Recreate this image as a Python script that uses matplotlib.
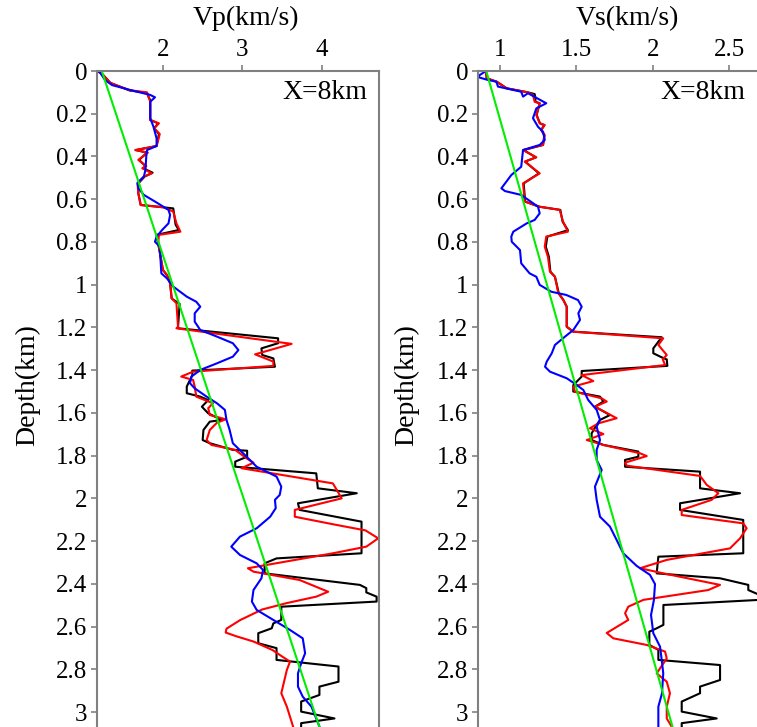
import numpy as np
import matplotlib
matplotlib.use("Agg")
import matplotlib.pyplot as plt
from matplotlib.ticker import FuncFormatter

plt.rcParams['font.family'] = ['Liberation Serif', 'DejaVu Serif']

# ---- P-wave velocity profiles at X=8km ----
vp_true_z = [0.0, 0.02, 0.056, 0.091, 0.103, 0.122, 0.136, 0.229, 0.245, 0.268, 0.295, 0.351,
             0.370, 0.382, 0.416, 0.445, 0.455, 0.476, 0.494, 0.526, 0.572, 0.627, 0.638, 0.643,
             0.72, 0.744, 0.767, 0.806, 0.931, 0.955, 0.993, 1.064, 1.07, 1.09, 1.20, 1.204,
             1.251, 1.274, 1.298, 1.329, 1.345, 1.384, 1.402, 1.423, 1.477, 1.508, 1.524, 1.540,
             1.571, 1.602, 1.633, 1.641, 1.68, 1.727, 1.742, 1.773, 1.777, 1.805, 1.828, 1.852,
             1.883, 1.953, 1.976, 2.023, 2.054, 2.109, 2.257, 2.281, 2.304, 2.351, 2.405, 2.42,
             2.44, 2.46, 2.483, 2.507, 2.569, 2.585, 2.608, 2.631, 2.678, 2.701, 2.756, 2.787,
             2.858, 2.881, 2.920, 2.951, 2.998, 3.03, 3.052, 3.07]
vp_true_v = [1.18, 1.25, 1.34, 1.58, 1.80, 1.82, 1.84, 1.84, 1.94, 1.89, 1.95, 1.92,
             1.66, 1.80, 1.70, 1.78, 1.75, 1.87, 1.77, 1.69, 1.69, 1.72, 2.01, 2.13,
             2.16, 2.20, 1.92, 1.94, 2.00, 2.05, 2.09, 2.11, 2.13, 2.21, 2.19, 2.19,
             3.45, 3.45, 3.24, 3.25, 3.39, 3.41, 2.37, 2.37, 2.30, 2.30, 2.47, 2.57,
             2.49, 2.57, 2.74, 2.59, 2.51, 2.50, 2.59, 2.88, 3.06, 3.06, 2.91, 2.91,
             3.93, 3.95, 4.44, 3.70, 3.72, 4.50, 4.50, 3.43, 3.28, 3.28, 4.48, 4.56,
             4.56, 4.69, 4.69, 3.49, 3.49, 3.39, 3.37, 3.20, 3.20, 3.43, 3.43, 4.21,
             4.21, 3.97, 3.97, 3.74, 3.74, 4.16, 3.74, 3.74]

vp_inv_z = [0.0, 0.02, 0.056, 0.09, 0.10, 0.144, 0.229, 0.245, 0.268, 0.295, 0.351, 0.370,
            0.382, 0.416, 0.445, 0.455, 0.479, 0.494, 0.526, 0.572, 0.627, 0.638, 0.658, 0.713,
            0.752, 0.767, 0.806, 0.931, 0.955, 0.993, 1.064, 1.087, 1.197, 1.204, 1.277, 1.326,
            1.360, 1.380, 1.407, 1.430, 1.446, 1.477, 1.524, 1.555, 1.578, 1.610, 1.630, 1.646,
            1.680, 1.727, 1.750, 1.773, 1.812, 1.833, 1.859, 1.93, 2.0, 2.054, 2.086, 2.124,
            2.150, 2.187, 2.226, 2.257, 2.327, 2.343, 2.382, 2.437, 2.460, 2.49, 2.52, 2.57,
            2.61, 2.628, 2.645, 2.67, 2.71, 2.74, 2.764, 2.803, 2.881, 2.912, 2.975, 3.07]
vp_inv_v = [1.18, 1.25, 1.34, 1.58, 1.80, 1.84, 1.84, 1.95, 1.89, 1.96, 1.92, 1.65,
            1.81, 1.69, 1.79, 1.74, 1.86, 1.76, 1.68, 1.69, 1.72, 2.01, 2.13, 2.17,
            2.22, 1.95, 1.94, 2.00, 2.05, 2.09, 2.11, 2.17, 2.19, 2.17, 3.62, 3.16,
            3.39, 3.39, 2.38, 2.23, 2.38, 2.40, 2.42, 2.63, 2.57, 2.59, 2.79, 2.68,
            2.59, 2.55, 2.61, 2.91, 3.05, 3.14, 2.99, 4.14, 4.25, 3.66, 3.66, 4.18,
            4.55, 4.71, 4.56, 4.14, 3.07, 3.14, 3.72, 4.08, 3.93, 3.56, 3.25, 2.97,
            2.80, 2.79, 2.92, 3.14, 3.38, 3.50, 3.60, 3.56, 3.51, 3.49, 3.56, 3.64]

vp_fwi_z = [0.0, 0.008, 0.042, 0.066, 0.089, 0.112, 0.123, 0.144, 0.221, 0.26, 0.315, 0.351,
            0.370, 0.401, 0.463, 0.494, 0.523, 0.549, 0.580, 0.611, 0.650, 0.674, 0.713, 0.744,
            0.775, 0.799, 0.822, 0.947, 0.97, 1.009, 1.056, 1.08, 1.103, 1.134, 1.173, 1.212,
            1.243, 1.274, 1.306, 1.337, 1.368, 1.399, 1.43, 1.461, 1.485, 1.524, 1.555, 1.586,
            1.633, 1.68, 1.742, 1.789, 1.852, 1.898, 1.945, 1.984, 2.007, 2.046, 2.086, 2.14,
            2.179, 2.226, 2.265, 2.304, 2.335, 2.374, 2.429, 2.483, 2.522, 2.569, 2.616, 2.655,
            2.725, 2.772, 2.819, 2.881, 2.928, 2.975, 3.068]
vp_fwi_v = [1.17, 1.21, 1.27, 1.36, 1.59, 1.84, 1.90, 1.84, 1.84, 1.88, 1.92, 1.92,
            1.80, 1.79, 1.78, 1.76, 1.68, 1.69, 1.76, 1.90, 2.07, 2.09, 2.07, 1.99,
            1.92, 1.90, 1.96, 1.98, 2.05, 2.13, 2.30, 2.42, 2.47, 2.40, 2.40, 2.47,
            2.68, 2.88, 2.95, 2.88, 2.68, 2.47, 2.36, 2.34, 2.40, 2.55, 2.68, 2.78,
            2.80, 2.84, 2.88, 3.01, 3.18, 3.43, 3.49, 3.47, 3.41, 3.42, 3.35, 3.18,
            2.97, 2.86, 2.97, 3.18, 3.26, 3.24, 3.14, 3.12, 3.18, 3.39, 3.60, 3.76,
            3.79, 3.74, 3.70, 3.70, 3.76, 3.87, 3.97]

vp_init_z = [0.0, 3.07]
vp_init_v = [1.23, 3.97]

# ---- S-wave velocity profiles at X=8km ----
vs_true_z = [0.003, 0.034, 0.050, 0.081, 0.100, 0.108, 0.125, 0.144, 0.151, 0.206, 0.245, 0.253,
             0.276, 0.300, 0.346, 0.370, 0.404, 0.424, 0.479, 0.526, 0.611, 0.635, 0.650, 0.705,
             0.745, 0.775, 0.822, 0.869, 0.939, 0.963, 1.04, 1.072, 1.103, 1.197, 1.220, 1.246,
             1.298, 1.321, 1.340, 1.350, 1.380, 1.404, 1.43, 1.47, 1.50, 1.524, 1.547, 1.571,
             1.61, 1.633, 1.656, 1.696, 1.727, 1.75, 1.781, 1.805, 1.82, 1.852, 1.875, 1.953,
             1.976, 2.023, 2.054, 2.101, 2.257, 2.273, 2.351, 2.374, 2.405, 2.429, 2.452, 2.475,
             2.499, 2.592, 2.608, 2.624, 2.686, 2.709, 2.756, 2.780, 2.850, 2.881, 2.912, 2.951,
             2.998, 3.03, 3.052, 3.07]
vs_true_v = [0.908, 0.913, 0.978, 1.044, 1.183, 1.227, 1.232, 1.232, 1.260, 1.240, 1.262, 1.29,
             1.27, 1.29, 1.282, 1.155, 1.235, 1.165, 1.255, 1.155, 1.165, 1.255, 1.395, 1.41,
             1.445, 1.31, 1.30, 1.32, 1.33, 1.36, 1.385, 1.415, 1.437, 1.437, 1.48, 2.059,
             2.004, 2.004, 2.059, 2.092, 2.096, 1.535, 1.535, 1.48, 1.48, 1.655, 1.677, 1.622,
             1.72, 1.655, 1.633, 1.60, 1.60, 1.677, 1.906, 1.906, 1.819, 1.819, 2.31, 2.31,
             2.572, 2.179, 2.179, 2.593, 2.593, 2.037, 2.026, 2.441, 2.626, 2.626, 2.70, 2.70,
             2.07, 2.07, 2.026, 1.978, 1.978, 2.037, 2.037, 2.441, 2.441, 2.31, 2.31, 2.19,
             2.19, 2.419, 2.19, 2.19]

vs_inv_z = [0.003, 0.034, 0.050, 0.081, 0.100, 0.112, 0.144, 0.151, 0.206, 0.245, 0.253, 0.276,
            0.300, 0.346, 0.370, 0.404, 0.424, 0.479, 0.526, 0.611, 0.635, 0.650, 0.705, 0.752,
            0.775, 0.822, 0.869, 0.939, 0.963, 1.040, 1.072, 1.103, 1.197, 1.220, 1.251, 1.282,
            1.329, 1.349, 1.376, 1.423, 1.451, 1.477, 1.501, 1.532, 1.547, 1.571, 1.625, 1.649,
            1.672, 1.699, 1.727, 1.750, 1.789, 1.802, 1.833, 1.847, 1.895, 1.937, 1.976, 2.007,
            2.054, 2.078, 2.117, 2.140, 2.187, 2.234, 2.288, 2.327, 2.351, 2.405, 2.429, 2.475,
            2.507, 2.538, 2.569, 2.630, 2.655, 2.686, 2.717, 2.749, 2.819, 2.858, 2.912, 2.975,
            3.030, 3.068]
vs_inv_v = [0.908, 0.913, 0.978, 1.044, 1.183, 1.216, 1.227, 1.260, 1.238, 1.260, 1.293, 1.270,
            1.293, 1.282, 1.151, 1.238, 1.162, 1.260, 1.151, 1.162, 1.260, 1.391, 1.413, 1.445,
            1.303, 1.293, 1.314, 1.327, 1.360, 1.382, 1.415, 1.437, 1.437, 1.480, 2.069, 2.037,
            2.092, 2.066, 2.081, 1.535, 1.611, 1.480, 1.491, 1.666, 1.699, 1.622, 1.764, 1.644,
            1.589, 1.677, 1.568, 1.677, 1.917, 1.961, 1.819, 1.830, 2.310, 2.354, 2.430, 2.386,
            2.190, 2.190, 2.593, 2.615, 2.572, 2.506, 2.092, 1.917, 2.070, 2.441, 2.364, 1.939,
            1.840, 1.819, 1.840, 1.699, 1.742, 1.961, 2.081, 2.092, 2.026, 2.092, 2.113, 2.092,
            2.092, 2.124]

vs_fwi_z = [0.003, 0.019, 0.029, 0.042, 0.050, 0.073, 0.097, 0.120, 0.104, 0.151, 0.175, 0.221,
            0.261, 0.284, 0.323, 0.346, 0.370, 0.448, 0.487, 0.549, 0.562, 0.580, 0.635, 0.666,
            0.697, 0.713, 0.752, 0.775, 0.799, 0.838, 0.900, 0.947, 0.963, 1.001, 1.033, 1.048,
            1.072, 1.103, 1.134, 1.165, 1.212, 1.243, 1.282, 1.321, 1.360, 1.384, 1.407, 1.438,
            1.469, 1.493, 1.540, 1.586, 1.633, 1.664, 1.727, 1.773, 1.820, 1.867, 1.945, 2.007,
            2.086, 2.132, 2.195, 2.257, 2.316, 2.358, 2.401, 2.475, 2.546, 2.631, 2.694, 2.756,
            2.818, 2.912, 2.975, 3.068]
vs_fwi_v = [0.902, 0.867, 0.858, 0.921, 0.976, 0.987, 1.139, 1.151, 1.183, 1.303, 1.238, 1.216,
            1.249, 1.282, 1.293, 1.260, 1.151, 1.139, 1.074, 1.009, 1.033, 1.139, 1.249, 1.260,
            1.227, 1.175, 1.087, 1.074, 1.077, 1.131, 1.139, 1.194, 1.238, 1.260, 1.336, 1.434,
            1.511, 1.535, 1.513, 1.524, 1.480, 1.426, 1.360, 1.339, 1.306, 1.295, 1.327, 1.437,
            1.502, 1.546, 1.578, 1.633, 1.655, 1.633, 1.655, 1.633, 1.633, 1.666, 1.622, 1.633,
            1.655, 1.720, 1.764, 1.807, 1.895, 1.982, 2.015, 2.008, 1.989, 2.004, 2.048, 2.059,
            2.069, 2.061, 2.037, 2.037]

vs_init_z = [0.0, 3.07]
vs_init_v = [0.91, 2.13]

depth_ticks = [0, 0.2, 0.4, 0.6, 0.8, 1, 1.2, 1.4, 1.6, 1.8, 2, 2.2, 2.4, 2.6, 2.8, 3]
vp_ticks = [2, 3, 4]
vs_ticks = [1, 1.5, 2, 2.5]

W, H = 757, 727
fig = plt.figure(figsize=(W / 100, H / 100), dpi=100)

ax1 = fig.add_axes([97 / W, 0, (379 - 97) / W, 1 - 71 / H])
ax2 = fig.add_axes([478 / W, 0, (757 - 478) / W, 1 - 71 / H])

panels = [
    (ax1, vp_true_z, vp_true_v, vp_inv_z, vp_inv_v, vp_fwi_z, vp_fwi_v,
     vp_init_z, vp_init_v, (1.17, 4.72), vp_ticks, 'Vp(km/s)', 0.528),
    (ax2, vs_true_z, vs_true_v, vs_inv_z, vs_inv_v, vs_fwi_z, vs_fwi_v,
     vs_init_z, vs_init_v, (0.856, 2.683), vs_ticks, 'Vs(km/s)', 0.534),
]

fs = 18
lfs = 20
for (ax, tz, tv, rz, rv, bz, bv, gz, gv, xlim, xt, xlab, xlab_x) in panels:
    ax.plot(tv, tz, color='black', lw=1.5)
    ax.plot(rv, rz, color='#ff0000', lw=1.5)
    ax.plot(bv, bz, color='#0000ff', lw=1.5)
    ax.plot(gv, gz, color='#00ee00', lw=1.5)

    ax.set_xlim(*xlim)
    ax.set_ylim(3.07, 0)
    ax.xaxis.tick_top()
    ax.xaxis.set_label_position('top')
    ax.set_xticks(xt)
    ax.set_yticks(depth_ticks)
    ax.xaxis.set_major_formatter(FuncFormatter(lambda v, p: '%g' % v))
    ax.yaxis.set_major_formatter(FuncFormatter(lambda v, p: '%g' % v))
    ax.tick_params(axis='both', direction='out', length=4, width=1.2,
                   color='#808080', labelsize=fs, pad=3)
    for s in ['top', 'left', 'right']:
        ax.spines[s].set_color('#808080')
        ax.spines[s].set_linewidth(1.5)
    ax.spines['bottom'].set_visible(False)

    ax.set_xlabel(xlab, fontsize=lfs)
    ax.xaxis.set_label_coords(xlab_x, 1.07)
    ax.set_ylabel('Depth(km)', fontsize=lfs)

    ax.text(0.96, 0.967, 'X=8km', transform=ax.transAxes, ha='right', va='center',
            fontsize=lfs)

ax2.spines['right'].set_visible(False)
ax1.yaxis.set_label_coords(-0.2, 0.521)
ax2.yaxis.set_label_coords(-0.212, 0.521)

fig.savefig('out.png', dpi=100)
